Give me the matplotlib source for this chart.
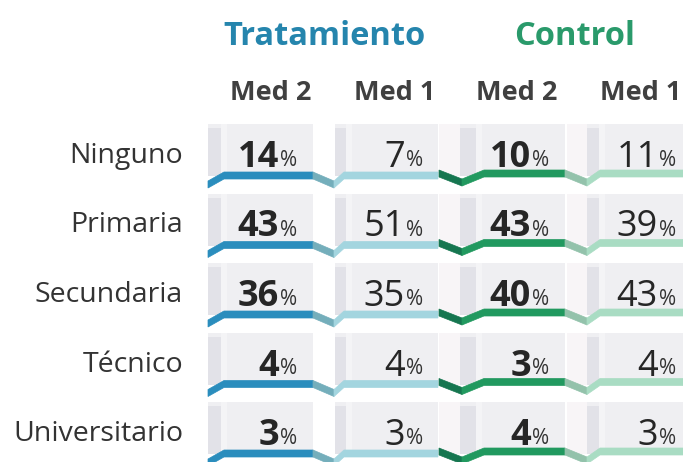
import matplotlib.pyplot as plt
from matplotlib.patches import Polygon, Rectangle

plt.rcParams['font.family'] = ['Open Sans', 'DejaVu Sans']

# data
categories = ["Ninguno", "Primaria", "Secundaria", "Técnico", "Universitario"]
groups = ["Tratamiento", "Control"]
col_labels = ["Med 2", "Med 1", "Med 2", "Med 1"]
trat_med2 = [14, 43, 36, 4, 3]
trat_med1 = [7, 51, 35, 4, 3]
ctrl_med2 = [10, 43, 40, 3, 4]
ctrl_med1 = [11, 39, 43, 4, 3]

values = [trat_med2, trat_med1, ctrl_med2, ctrl_med1]

# layout (pixel units)
W, H = 683, 462
ROW0, ROW_STEP = 172, 69.5
TEXT_DARK = "#333333"
GROUP_COLORS = ["#2585ad", "#2a9a6b"]
GROUP_X = [325, 575]
HEAD_X = [271, 395, 517, 641]
NUM_RIGHT = [297, 423, 549, 676]
BOLD = [True, False, True, False]

# cell panels: (x0, x1, pale strip end, dark strip end)
PANELS = [
    (208, 313, 208, 221),
    (335, 438, 335, 346),
    (439, 565, 460, 476),
    (567, 683, 587, 599),
]

# ribbon pieces: (top-edge points as (x, dy), colour)
RIBBONS = [
    [([(208, 9), (224, 0), (313, 0)], "#2a8dbd"),
     ([(313, 0), (334, 9)], "#74aebb")],
    [([(334, 9), (344, 0), (438, 0)], "#a3d5df")],
    [([(439, -2), (462, 7)], "#167650"),
     ([(462, 7), (484, -2), (565, -2)], "#21995f"),
     ([(565, -2), (587, 7)], "#93c2ab")],
    [([(587, 7), (600, -2), (683, -2)], "#a9dcc3")],
]
THICK = 7


def draw_ribbon(ax, pts, color, y0):
    top = [(x, y0 + dy) for x, dy in pts]
    bottom = [(x, y0 + dy + THICK) for x, dy in reversed(pts)]
    ax.add_patch(Polygon(top + bottom, closed=True, fc=color, ec=color, lw=0.5, zorder=3))


def draw_panel(ax, panel, y0):
    x0, x1, pale, dark = panel
    top = y0 - 48
    h = y0 + 4 - top
    ax.add_patch(Rectangle((x0, top), x1 - x0, h, fc="#efeff2", ec="none", zorder=1))
    if pale > x0:
        ax.add_patch(Rectangle((x0, top), pale - x0, h, fc="#f8f5f7", ec="none", zorder=2))
    ax.add_patch(Rectangle((pale, top + 4), dark - pale, h - 4, fc="#e2e2e8", ec="none", zorder=2))
    ax.add_patch(Rectangle((dark, top), 6, h, fc="#f4f4f6", ec="none", zorder=2))


fig = plt.figure(figsize=(W / 100, H / 100), dpi=100)
ax = fig.add_axes([0, 0, 1, 1])
ax.set_xlim(0, W)
ax.set_ylim(H, 0)
ax.axis("off")

renderer = fig.canvas.get_renderer()

# titles
for g, name in enumerate(groups):
    ax.text(GROUP_X[g], 45, name, ha="center", va="baseline", fontsize=23.5,
            fontweight="bold", color=GROUP_COLORS[g])

for c, lab in enumerate(col_labels):
    ax.text(HEAD_X[c], 100, lab, ha="center", va="baseline", fontsize=19.5,
            fontweight="bold", color="#404040")

for i, cat in enumerate(categories):
    y0 = ROW0 + ROW_STEP * i
    ax.text(183, y0 - 9, cat, ha="right", va="baseline", fontsize=20.5, color=TEXT_DARK)

    for c in range(4):
        draw_panel(ax, PANELS[c], y0)
        for pts, color in RIBBONS[c]:
            draw_ribbon(ax, pts, color, y0)

        pct = ax.text(NUM_RIGHT[c], y0 - 6, "%", ha="right", va="baseline",
                      fontsize=15, color=TEXT_DARK, zorder=5)
        bb = pct.get_window_extent(renderer)
        xl = ax.transData.inverted().transform((bb.x0, bb.y0))[0]
        ax.text(xl - 1, y0 - 5, str(values[c][i]), ha="right", va="baseline",
                fontsize=26, fontweight="bold" if BOLD[c] else "normal",
                color="#262626", zorder=5)

fig.savefig("out.png", dpi=100)
